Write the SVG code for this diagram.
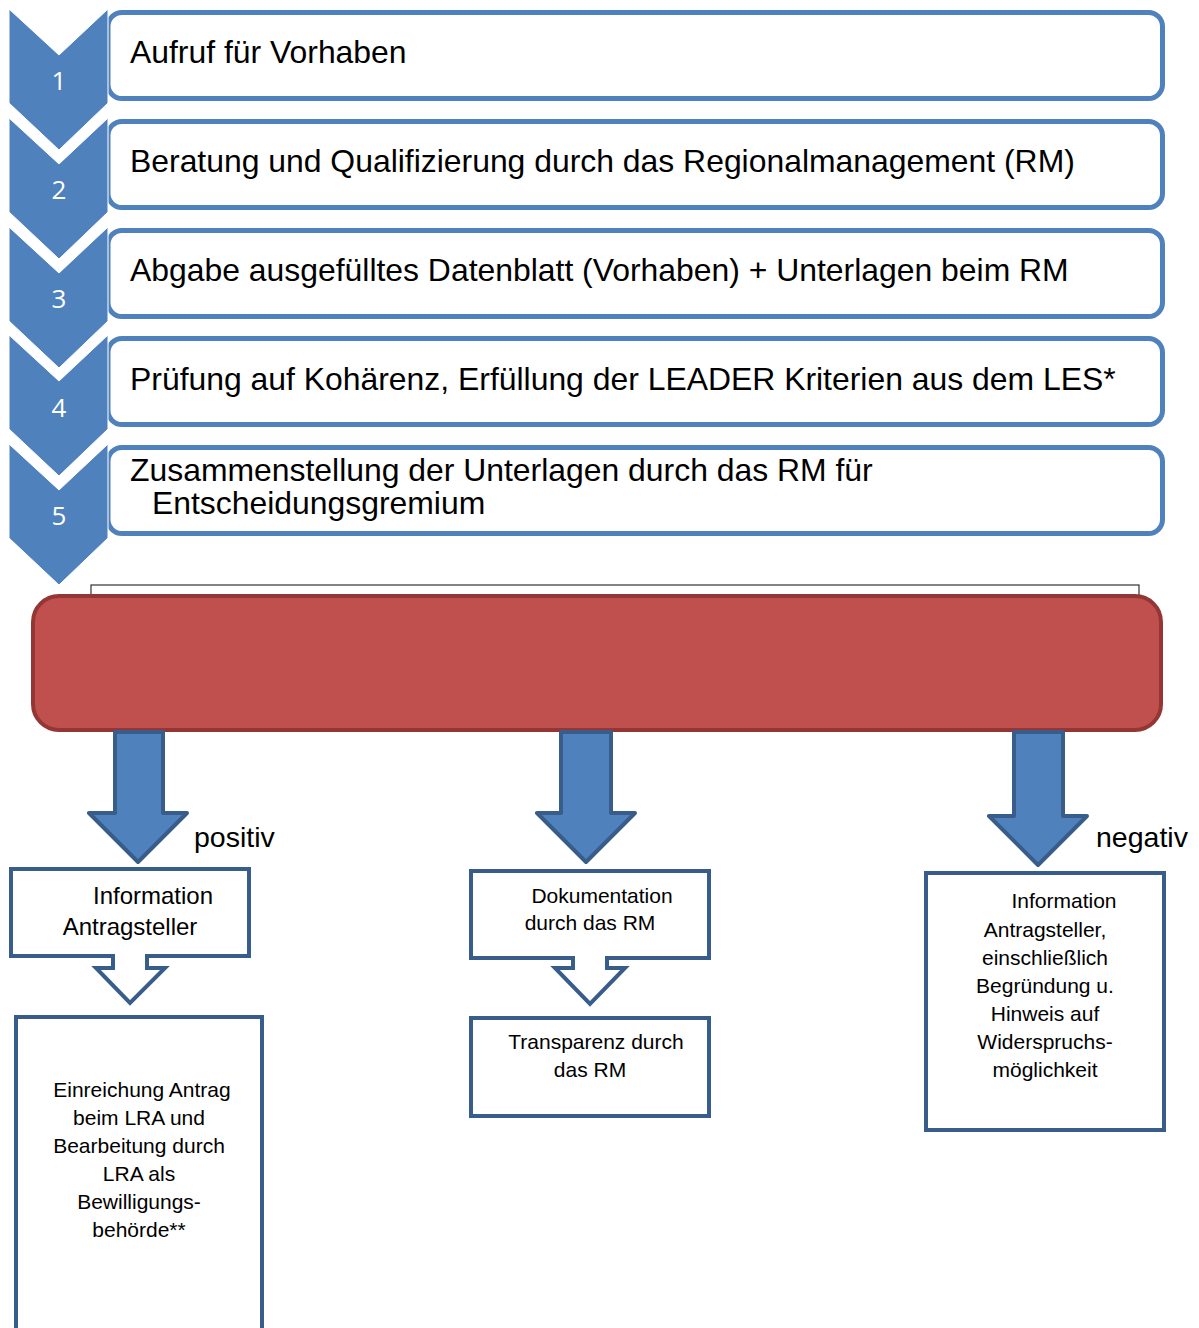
<svg xmlns="http://www.w3.org/2000/svg" width="1199" height="1328" viewBox="0 0 1199 1328">
<style>
.step{fill:#fff;stroke:#4F81BD;stroke-width:5}
.chev{fill:#4F81BD;stroke:#fff;stroke-width:1}
.num{font-family:"Open Sans","Liberation Sans",sans-serif;font-size:26px;fill:#fff;text-anchor:middle}
.t{font-family:"Liberation Sans",Arial,sans-serif;font-size:31.9px;fill:#000}
.box{fill:#fff;stroke:#385D8A;stroke-width:4}
.arr{fill:#4F81BD;stroke:#385D8A;stroke-width:4;stroke-linejoin:round}
.s{font-family:"Liberation Sans",Arial,sans-serif;font-size:21px;fill:#000;text-anchor:middle}
.m{font-family:"Liberation Sans",Arial,sans-serif;font-size:24px;fill:#000;text-anchor:middle}
.lab{font-family:"Liberation Sans",Arial,sans-serif;font-size:28.5px;fill:#000}
</style>

<g id="step1">
<rect class="step" x="108" y="12.5" width="1054.5" height="86" rx="14"/>
<path class="chev" d="M9,9 L59,55 L108,9 L108,103 L59,150 L9,103 Z"/>
<text class="num" x="59" y="90">1</text>
<text class="t" x="130" y="63">Aufruf für Vorhaben</text>
</g>
<g id="step2">
<rect class="step" x="108" y="121.5" width="1054.5" height="86" rx="14"/>
<path class="chev" d="M9,118 L59,164 L108,118 L108,212 L59,259 L9,212 Z"/>
<text class="num" x="59" y="199">2</text>
<text class="t" x="130" y="172">Beratung und Qualifizierung durch das Regionalmanagement (RM)</text>
</g>
<g id="step3">
<rect class="step" x="108" y="230.5" width="1054.5" height="86" rx="14"/>
<path class="chev" d="M9,227 L59,273 L108,227 L108,321 L59,368 L9,321 Z"/>
<text class="num" x="59" y="308">3</text>
<text class="t" x="130" y="281">Abgabe ausgefülltes Datenblatt (Vorhaben) + Unterlagen beim RM</text>
</g>
<g id="step4">
<rect class="step" x="108" y="338.5" width="1054.5" height="86" rx="14"/>
<path class="chev" d="M9,335 L59,381 L108,335 L108,429 L59,476 L9,429 Z"/>
<text class="num" x="59" y="417">4</text>
<text class="t" x="130" y="390">Prüfung auf Kohärenz, Erfüllung der LEADER Kriterien aus dem LES*</text>
</g>
<g id="step5">
<rect class="step" x="108" y="447.5" width="1054.5" height="86" rx="14"/>
<path class="chev" d="M9,444 L59,490 L108,444 L108,538 L59,585 L9,538 Z"/>
<text class="num" x="59" y="525">5</text>
<text class="t" x="130" y="481">Zusammenstellung der Unterlagen durch das RM für</text>
<text class="t" x="152" y="514">Entscheidungsgremium</text>
</g>

<g id="decision">
<rect x="91" y="585" width="1048" height="40" fill="#fff" stroke="#333" stroke-width="1.2"/>
<rect x="33" y="596" width="1128" height="134" rx="26" fill="#C0504D" stroke="#943634" stroke-width="4"/>
</g>

<g id="connectors">
<path class="arr" d="M115,732 L163,732 L163,813 L187,813 L138,862 L89,813 L115,813 Z"/>
<path class="arr" d="M561,732 L611,732 L611,813 L635,813 L586,862 L537,813 L561,813 Z"/>
<path class="arr" d="M1014,732 L1063,732 L1063,816 L1087,816 L1038,865 L989,816 L1014,816 Z"/>
</g>
<text class="lab" x="194" y="847">positiv</text>
<text class="lab" x="1096" y="847">negativ</text>

<g id="info-pos">
<path class="box" d="M11,869 L249,869 L249,956 L147,956 L147,968 L165,968 L130,1003 L96,968 L113,968 L113,956 L11,956 Z"/>
<text class="m" x="153" y="904">Information</text>
<text class="m" x="130" y="935">Antragsteller</text>
</g>

<g id="doku">
<path class="box" d="M471,871 L709,871 L709,958 L607,958 L607,968 L625,968 L590,1004 L555,968 L573,968 L573,958 L471,958 Z"/>
<text class="s" x="602" y="903">Dokumentation</text>
<text class="s" x="590" y="930">durch das RM</text>
</g>

<g id="transparenz">
<rect class="box" x="471" y="1018" width="238" height="98"/>
<text class="s" x="596" y="1049">Transparenz durch</text>
<text class="s" x="590" y="1077">das RM</text>
</g>

<g id="info-neg">
<rect class="box" x="926" y="873" width="238" height="257"/>
<text class="s" x="1064" y="908">Information</text>
<text class="s" x="1045" y="937">Antragsteller,</text>
<text class="s" x="1045" y="965">einschließlich</text>
<text class="s" x="1045" y="993">Begründung u.</text>
<text class="s" x="1045" y="1021">Hinweis auf</text>
<text class="s" x="1045" y="1049">Widerspruchs-</text>
<text class="s" x="1045" y="1077">möglichkeit</text>
</g>

<g id="lra">
<path class="box" d="M16,1340 L16,1017 L262,1017 L262,1340"/>
<text class="s" x="142" y="1097">Einreichung Antrag</text>
<text class="s" x="139" y="1125">beim LRA und</text>
<text class="s" x="139" y="1153">Bearbeitung durch</text>
<text class="s" x="139" y="1181">LRA als</text>
<text class="s" x="139" y="1209">Bewilligungs-</text>
<text class="s" x="139" y="1237">behörde**</text>
</g>
</svg>
